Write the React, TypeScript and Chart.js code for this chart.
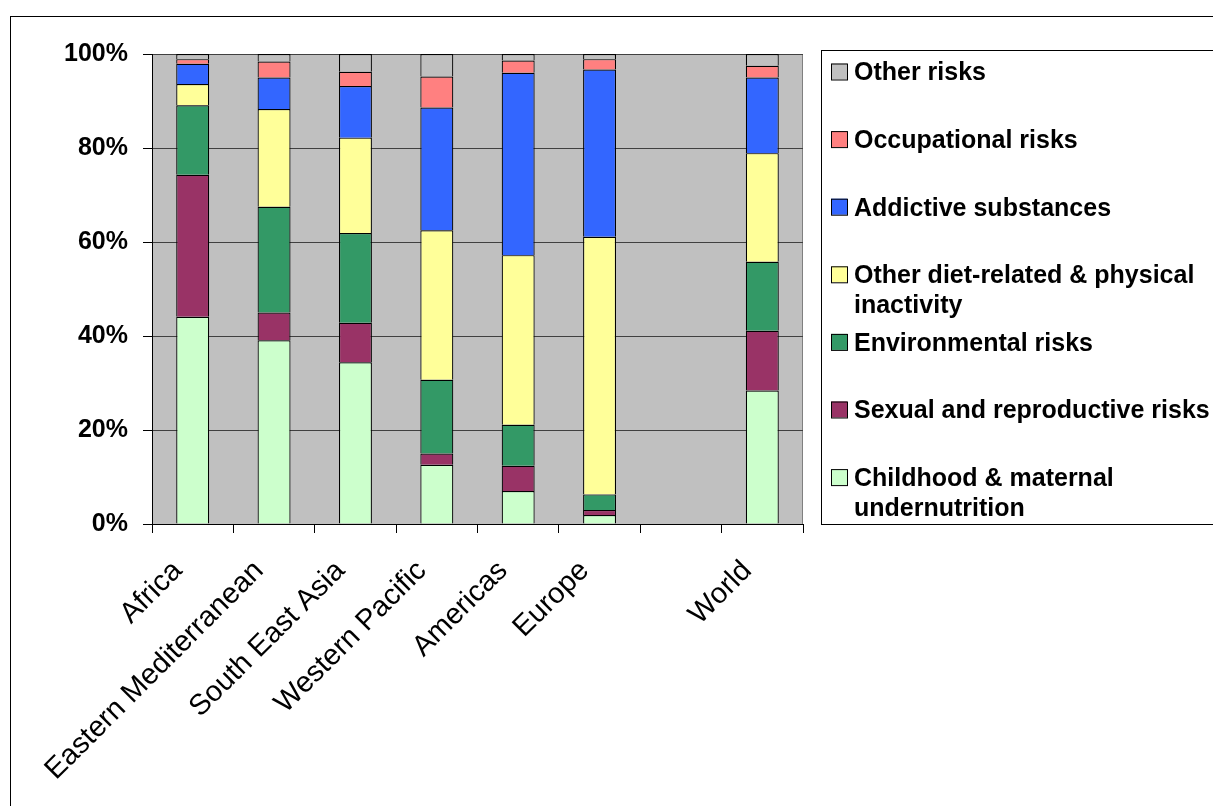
import { useEffect, useRef } from 'react';
import { Chart, registerables } from 'chart.js';

Chart.register(...registerables);

const FONT = 'Liberation Sans, Arial, Helvetica, sans-serif';

const categories = ['Africa', 'Eastern Mediterranean', 'South East Asia', 'Western Pacific', 'Americas', 'Europe', '', 'World'];

const childhood = [44.1, 39.1, 34.4, 12.6, 7.0, 1.9, null, 28.4];
const sexual = [30.2, 5.9, 8.4, 2.4, 5.4, 1.1, null, 12.7];
const environmental = [14.8, 22.5, 19.1, 15.7, 8.7, 3.3, null, 14.7];
const diet = [4.5, 20.8, 20.3, 31.8, 36.1, 54.8, null, 23.1];
const addictive = [4.3, 6.7, 11.0, 26.1, 38.8, 35.6, null, 16.1];
const occupational = [1.0, 3.4, 3.0, 6.6, 2.6, 2.2, null, 2.5];
const otherRisks = [1.1, 1.6, 3.8, 4.8, 1.4, 1.1, null, 2.5];

const seriesNames = [
  'Childhood & maternal undernutrition',
  'Sexual and reproductive risks',
  'Environmental risks',
  'Other diet-related & physical inactivity',
  'Addictive substances',
  'Occupational risks',
  'Other risks',
];
const legendLines = [
  ['Childhood & maternal', 'undernutrition'],
  ['Sexual and reproductive risks'],
  ['Environmental risks'],
  ['Other diet-related & physical', 'inactivity'],
  ['Addictive substances'],
  ['Occupational risks'],
  ['Other risks'],
];
const seriesColors = ['#CCFFCC', '#993366', '#339966', '#FFFF99', '#3366FF', '#FF8080', '#C0C0C0'];
const seriesData = [childhood, sexual, environmental, diet, addictive, occupational, otherRisks];

const yTicks = [0, 20, 40, 60, 80, 100];

const bgPlugin = {
  id: 'bgPlugin',
  beforeDraw(chart: any) {
    const { ctx, chartArea } = chart;
    ctx.save();
    ctx.fillStyle = '#FFFFFF';
    ctx.fillRect(0, 0, chart.width, chart.height);
    ctx.strokeStyle = '#000000';
    ctx.lineWidth = 1;
    ctx.strokeRect(10.5, 16.5, chart.width + 20, chart.height + 20);
    ctx.fillStyle = '#C0C0C0';
    ctx.fillRect(chartArea.left, chartArea.top, chartArea.right - chartArea.left, chartArea.bottom - chartArea.top);
    ctx.strokeStyle = '#808080';
    ctx.beginPath();
    ctx.moveTo(chartArea.right - 0.5, chartArea.top);
    ctx.lineTo(chartArea.right - 0.5, chartArea.bottom);
    ctx.stroke();
    ctx.restore();
  },
};

const legendPlugin = {
  id: 'customLegend',
  afterDraw(chart: any) {
    const { ctx, chartArea } = chart;
    const left = chartArea.right + 18;
    const top = chartArea.top - 4;
    const bottom = chartArea.bottom;
    ctx.save();
    ctx.strokeStyle = '#000000';
    ctx.lineWidth = 1;
    ctx.strokeRect(left + 0.5, top + 0.5, chart.width - left + 10, bottom - top);
    ctx.font = 'bold 25px ' + FONT;
    ctx.textBaseline = 'middle';
    ctx.textAlign = 'left';
    const step = 67.6;
    const order = [6, 5, 4, 3, 2, 1, 0];
    order.forEach((idx, i) => {
      const cy = top + 21.5 + i * step;
      ctx.fillStyle = seriesColors[idx];
      ctx.fillRect(left + 10, cy - 8, 16, 16);
      ctx.strokeStyle = '#000000';
      ctx.lineWidth = 1;
      ctx.strokeRect(left + 10.5, cy - 7.5, 16, 16);
      ctx.fillStyle = '#000000';
      legendLines[idx].forEach((line, li) => {
        ctx.fillText(line, left + 33, cy + 2 + li * 30);
      });
    });
    ctx.restore();
  },
};

export default function App() {
  const ref = useRef<HTMLCanvasElement | null>(null);
  useEffect(() => {
    if (!ref.current) return;
    const chart = new Chart(ref.current, {
      type: 'bar',
      data: {
        labels: categories,
        datasets: seriesNames.map((name, i) => ({
          label: name,
          data: seriesData[i] as any,
          backgroundColor: seriesColors[i],
          borderColor: '#000000',
          borderWidth: 1.2,
          barPercentage: 0.405,
          categoryPercentage: 1,
        })),
      },
      options: {
        animation: false,
        responsive: false,
        layout: { padding: { top: 54, right: 410, left: 0, bottom: 0 } },
        plugins: { legend: { display: false }, tooltip: { enabled: false } },
        scales: {
          x: {
            stacked: true,
            afterFit: (s: any) => { s.height = 282; },
            grid: { drawOnChartArea: false, drawTicks: true, tickLength: 9, color: '#000000', offset: true },
            border: { display: true, color: '#000000', width: 1 },
            ticks: {
              autoSkip: false,
              maxRotation: 45,
              minRotation: 45,
              padding: 21,
              labelOffset: -15,
              color: '#000000',
              font: { family: FONT, size: 29 },
            },
          },
          y: {
            stacked: true,
            min: 0,
            max: 100,
            afterFit: (s: any) => { s.width = 152; },
            afterBuildTicks: (s: any) => { s.ticks = yTicks.map((v) => ({ value: v })); },
            grid: { color: '#404040', tickColor: '#000000', tickLength: 9, lineWidth: 1 },
            border: { display: true, color: '#000000', width: 1 },
            ticks: {
              padding: 15,
              color: '#000000',
              font: { family: FONT, size: 25, weight: 'bold' },
              callback: (v: any) => v + '%',
            },
          },
        },
      },
      plugins: [bgPlugin, legendPlugin],
    });
    return () => chart.destroy();
  }, []);
  return (
    <div style={{ position: 'fixed', left: 0, top: 0, width: 1213, height: 806, background: '#fff' }}>
      <canvas ref={ref} width={1213} height={806} />
    </div>
  );
}
